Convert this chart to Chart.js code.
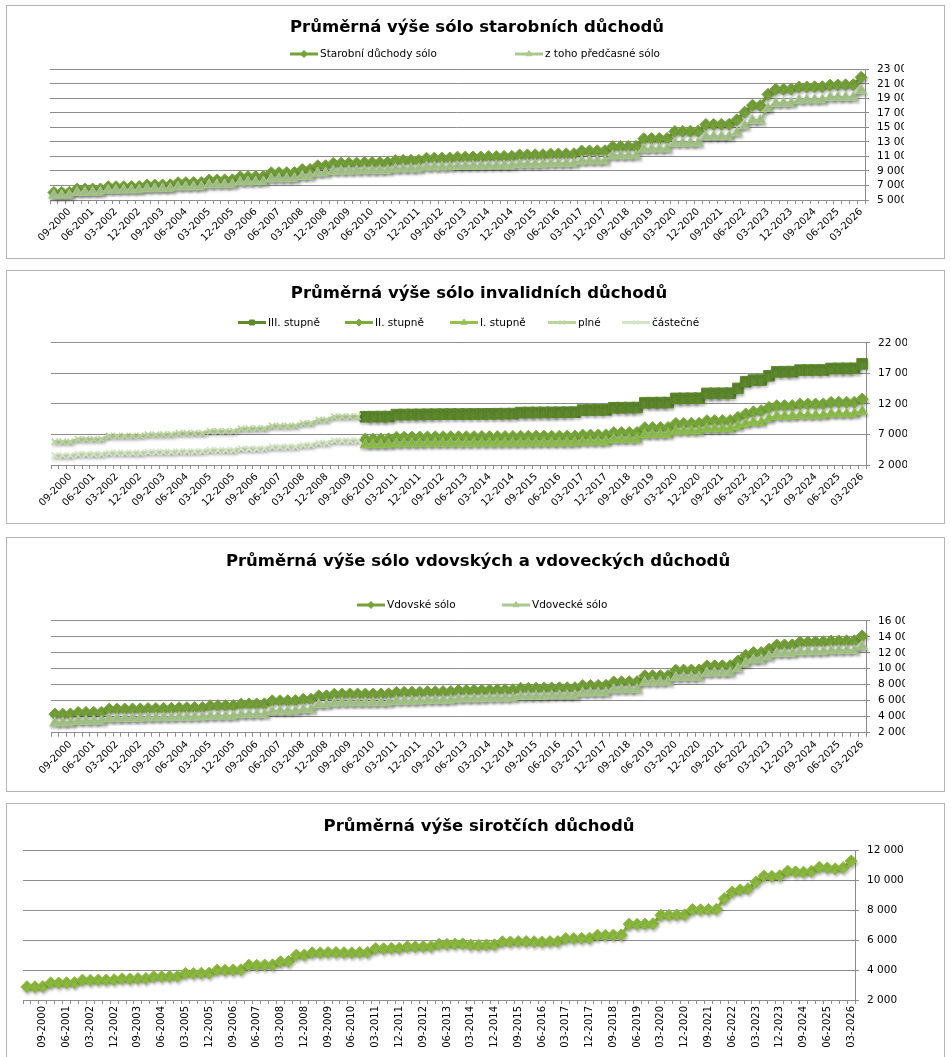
<!DOCTYPE html>
<html lang="cs">
<head>
<meta charset="utf-8">
<title>Průměrná výše sólo důchodů</title>
<script src="https://cdn.jsdelivr.net/npm/chart.js@4.4.1/dist/chart.umd.min.js"></script>
<style>
  body { margin: 0; background: #fff; }
  .panel { position: absolute; left: 6px; width: 937px; border: 1px solid #b4b4b4; background: #fff; overflow: hidden; }
  .panel canvas { display: block; }
</style>
</head>
<body>
<div class="panel" style="top:5px;height:252px"><canvas id="starobni" width="937" height="252"></canvas></div>
<div class="panel" style="top:270px;height:252px"><canvas id="invalidni" width="937" height="252"></canvas></div>
<div class="panel" style="top:537px;height:253px"><canvas id="vdovske" width="937" height="253"></canvas></div>
<div class="panel" style="top:803px;height:260px"><canvas id="sirotci" width="937" height="260"></canvas></div>
<script>
// Quarterly categories 03-2000 .. 03-2026, every third one is labelled (09-2000, 06-2001, ...)
const quarters = [];
for (let y = 2000; y <= 2026; y++) {
  for (const m of ['03', '06', '09', '12']) {
    if (y === 2026 && m !== '03') break;
    quarters.push(m + '-' + y);
  }
}

// Starobní důchody sólo (one line per year, Q1..Q4)
const starobniSolo = [
  6050, 6050, 6060, 6500,
  6500, 6510, 6520, 6830,
  6830, 6840, 6850, 6860,
  7060, 7070, 7080, 7090,
  7380, 7390, 7400, 7410,
  7750, 7760, 7770, 7780,
  8200, 8210, 8220, 8230,
  8750, 8760, 8770, 8780,
  9200, 9210, 9700, 9720,
  10050, 10060, 10070, 10080,
  10150, 10160, 10170, 10180,
  10450, 10460, 10470, 10480,
  10750, 10760, 10770, 10780,
  10900, 10910, 10920, 10930,
  10980, 10990, 11000, 11010,
  11200, 11210, 11220, 11230,
  11330, 11340, 11350, 11360,
  11750, 11760, 11770, 11780,
  12350, 12360, 12370, 12380,
  13450, 13460, 13470, 13480,
  14450, 14460, 14470, 14480,
  15400, 15410, 15420, 15430,
  16050, 17100, 18050, 18000,
  19550, 20250, 20260, 20270,
  20550, 20570, 20590, 20600,
  20820, 20840, 20860, 20880,
  21900
];

// z toho předčasné sólo
const predcasneSolo = [
  5650, 5650, 5660, 6050,
  6050, 6060, 6070, 6350,
  6350, 6360, 6370, 6380,
  6530, 6540, 6550, 6560,
  6780, 6790, 6800, 6810,
  7080, 7090, 7100, 7110,
  7450, 7460, 7470, 7480,
  7900, 7910, 7920, 7930,
  8250, 8260, 8700, 8710,
  8950, 8960, 8970, 8980,
  9020, 9030, 9040, 9050,
  9250, 9260, 9270, 9280,
  9500, 9510, 9520, 9530,
  9620, 9630, 9640, 9650,
  9680, 9690, 9700, 9710,
  9880, 9890, 9900, 9910,
  9980, 9990, 10000, 10010,
  10350, 10360, 10370, 10380,
  11050, 11060, 11070, 11080,
  12000, 12010, 12020, 12030,
  12800, 12810, 12820, 12830,
  13700, 13710, 13720, 13730,
  14250, 15200, 15950, 15950,
  17600, 18300, 18310, 18320,
  18750, 18760, 18770, 18780,
  19100, 19110, 19120, 19130,
  20100
];

// invalidní – old categories, 03-2000 .. 12-2009
const plne = [
  5800, 5800, 5810, 6200,
  6200, 6210, 6220, 6740,
  6740, 6750, 6760, 6770,
  6960, 6970, 6980, 6990,
  7180, 7190, 7200, 7210,
  7510, 7520, 7530, 7540,
  7940, 7950, 7960, 7970,
  8380, 8390, 8400, 8410,
  8820, 8830, 9360, 9370,
  9900, 9910, 9920, 9930
];
const castecne = [
  3550, 3550, 3560, 3750,
  3750, 3760, 3770, 3950,
  3950, 3960, 3970, 3980,
  4100, 4110, 4120, 4130,
  4200, 4210, 4220, 4230,
  4400, 4410, 4420, 4430,
  4650, 4660, 4670, 4680,
  4950, 4960, 4970, 4980,
  5250, 5260, 5600, 5610,
  5950, 5960, 5970, 5980
];

// invalidní – new categories, 03-2010 .. 03-2026
const stupen3 = [
  9900, 9910, 9920, 9930,
  10250, 10260, 10270, 10280,
  10300, 10310, 10320, 10330,
  10330, 10340, 10350, 10360,
  10380, 10390, 10400, 10410,
  10580, 10590, 10600, 10610,
  10620, 10630, 10640, 10650,
  10990, 11000, 11010, 11020,
  11370, 11380, 11390, 11400,
  12190, 12200, 12210, 12220,
  12900, 12910, 12920, 12930,
  13720, 13730, 13740, 13750,
  14540, 15630, 15900, 15910,
  16600, 17260, 17270, 17280,
  17530, 17540, 17550, 17560,
  17800, 17810, 17820, 17830,
  18550
];
const stupen2 = [
  6250, 6260, 6270, 6280,
  6550, 6560, 6570, 6580,
  6600, 6610, 6620, 6630,
  6620, 6630, 6640, 6650,
  6640, 6650, 6660, 6670,
  6700, 6710, 6720, 6730,
  6710, 6720, 6730, 6740,
  6900, 6910, 6920, 6930,
  7300, 7310, 7320, 7330,
  8100, 8110, 8120, 8130,
  8800, 8810, 8820, 8830,
  9250, 9260, 9270, 9280,
  9800, 10340, 10700, 10880,
  11430, 11700, 11710, 11720,
  11970, 11980, 11990, 12000,
  12250, 12260, 12270, 12280,
  12790
];
const stupen1 = [
  5300, 5310, 5320, 5330,
  5450, 5460, 5470, 5480,
  5500, 5510, 5520, 5530,
  5520, 5530, 5540, 5550,
  5550, 5560, 5570, 5580,
  5580, 5590, 5600, 5610,
  5590, 5600, 5610, 5620,
  5750, 5760, 5770, 5780,
  6140, 6150, 6160, 6170,
  6960, 6970, 6980, 6990,
  7510, 7520, 7530, 7540,
  7890, 7900, 7910, 7920,
  8320, 8750, 8980, 8990,
  9570, 9960, 9970, 9980,
  10100, 10110, 10120, 10130,
  10340, 10350, 10360, 10370,
  10780
];

// Vdovské sólo / Vdovecké sólo
const vdovskeSolo = [
  4330, 4330, 4340, 4540,
  4540, 4550, 4560, 4950,
  4950, 4960, 4970, 4980,
  5020, 5030, 5040, 5050,
  5120, 5130, 5140, 5150,
  5370, 5380, 5390, 5400,
  5580, 5590, 5600, 5610,
  5990, 6000, 6010, 6020,
  6190, 6200, 6610, 6620,
  6820, 6830, 6840, 6850,
  6830, 6840, 6850, 6860,
  7040, 7050, 7060, 7070,
  7120, 7130, 7140, 7150,
  7280, 7290, 7300, 7310,
  7350, 7360, 7370, 7380,
  7550, 7560, 7570, 7580,
  7600, 7610, 7620, 7630,
  7900, 7910, 7920, 7930,
  8350, 8360, 8370, 8380,
  9110, 9120, 9130, 9140,
  9820, 9830, 9840, 9850,
  10360, 10370, 10380, 10390,
  10980, 11690, 12020, 12030,
  12440, 12970, 12980, 12990,
  13350, 13360, 13370, 13380,
  13470, 13480, 13490, 13500,
  14100
];
const vdoveckeSolo = [
  3210, 3210, 3220, 3420,
  3420, 3430, 3440, 3750,
  3750, 3760, 3770, 3780,
  3840, 3850, 3860, 3870,
  3920, 3930, 3940, 3950,
  4040, 4050, 4060, 4070,
  4250, 4260, 4270, 4280,
  4670, 4680, 4690, 4700,
  4880, 4890, 5500, 5510,
  5700, 5710, 5720, 5730,
  5720, 5730, 5740, 5750,
  5920, 5930, 5940, 5950,
  6020, 6030, 6040, 6050,
  6200, 6210, 6220, 6230,
  6300, 6310, 6320, 6330,
  6500, 6510, 6520, 6530,
  6600, 6610, 6620, 6630,
  6950, 6960, 6970, 6980,
  7360, 7370, 7380, 7390,
  8300, 8310, 8320, 8330,
  8900, 8910, 8920, 8930,
  9450, 9460, 9470, 9480,
  10000, 10700, 11100, 11100,
  11500, 11900, 11910, 11920,
  12100, 12110, 12120, 12130,
  12250, 12260, 12270, 12280,
  12800
];

// sirotčí
const sirotci = [
  2890, 2880, 2900, 3150,
  3140, 3150, 3160, 3330,
  3320, 3330, 3340, 3350,
  3420, 3410, 3430, 3440,
  3560, 3550, 3570, 3580,
  3780, 3770, 3790, 3800,
  4000, 3990, 4010, 4020,
  4330, 4320, 4340, 4350,
  4560, 4570, 5000, 5010,
  5160, 5150, 5170, 5180,
  5160, 5150, 5170, 5180,
  5440, 5430, 5450, 5460,
  5560, 5550, 5570, 5580,
  5730, 5720, 5740, 5750,
  5670, 5660, 5680, 5690,
  5890, 5880, 5900, 5910,
  5890, 5880, 5900, 5910,
  6110, 6100, 6120, 6130,
  6330, 6320, 6340, 6350,
  7070, 7060, 7080, 7090,
  7670, 7660, 7680, 7690,
  8040, 8030, 8050, 8060,
  8780, 9220, 9360, 9430,
  9890, 10290, 10260, 10300,
  10610, 10560, 10540, 10600,
  10870, 10820, 10760, 10840,
  11290
];

const FONT = '"DejaVu Sans", Verdana, sans-serif';
const GRID = '#8c8c8c';

// the old invalidity categories stop at 12-2009, the new ones start at 03-2010
const gapBefore = Array(plne.length).fill(null);
const gapAfter = Array(quarters.length - plne.length).fill(null);

function fmt(v) {
  return String(v).replace(/\B(?=(\d{3})+(?!\d))/g, ' ');
}

// soft shadow under lines and markers, like the Excel original
const markerShadow = {
  id: 'markerShadow',
  beforeDatasetsDraw(chart) {
    const c = chart.ctx;
    c.save();
    c.shadowColor = 'rgba(0,0,0,0.28)';
    c.shadowBlur = 3;
    c.shadowOffsetX = 1;
    c.shadowOffsetY = 2;
  },
  afterDatasetsDraw(chart) {
    chart.ctx.restore();
  }
};

// legend with free item positions (Excel spreads the entries unevenly)
const excelLegend = {
  id: 'excelLegend',
  afterDraw(chart, args, opts) {
    if (!opts.x || !opts.x.length) return;
    const ctx = chart.ctx;
    ctx.save();
    ctx.font = '10.5px ' + FONT;
    ctx.textBaseline = 'middle';
    opts.x.forEach((x, i) => {
      const ds = chart.data.datasets[i];
      const y = opts.y;
      ctx.strokeStyle = ds.borderColor;
      ctx.lineWidth = 3;
      ctx.beginPath();
      ctx.moveTo(x, y);
      ctx.lineTo(x + 28, y);
      ctx.stroke();
      ctx.fillStyle = ds.pointBackgroundColor;
      ctx.strokeStyle = ds.pointBorderColor;
      ctx.lineWidth = 1;
      Chart.helpers.drawPoint(ctx, { pointStyle: ds.pointStyle, radius: 3.5, borderWidth: 1 }, x + 14, y);
      ctx.fillStyle = '#000';
      ctx.fillText(ds.label, x + 30, y + 0.5);
    });
    ctx.restore();
  }
};

function series(label, data, color, style, radius, order) {
  return {
    label: label,
    data: data,
    borderColor: color,
    backgroundColor: color,
    pointBackgroundColor: color,
    pointBorderColor: color,
    pointStyle: style,
    pointRadius: radius,
    pointBorderWidth: style === 'crossRot' ? 1.6 : 1,
    borderWidth: 3,
    tension: 0,
    clip: false,
    order: order
  };
}

function buildChart(id, datasets, o) {
  return new Chart(document.getElementById(id), {
    type: 'line',
    data: { labels: quarters, datasets: datasets },
    plugins: [markerShadow, excelLegend],
    options: {
      responsive: false,
      animation: false,
      events: [],
      layout: { padding: { left: o.padLeft, right: o.padRight, top: 0, bottom: 0 } },
      plugins: {
        legend: { display: false },
        tooltip: { enabled: false },
        title: {
          display: true,
          text: o.title,
          color: '#000',
          font: { family: FONT, size: 16.5, weight: 'bold' },
          padding: { top: o.titleTop, bottom: o.titleBottom }
        },
        excelLegend: o.legend || { x: [] }
      },
      scales: {
        x: {
          offset: true,
          grid: { offset: true, drawOnChartArea: false, drawTicks: true, tickLength: 4, color: GRID },
          border: { display: true, color: GRID },
          ticks: {
            autoSkip: false,
            minRotation: o.rotation,
            maxRotation: o.rotation,
            color: '#000',
            padding: 2,
            font: { family: FONT, size: 10 },
            callback: (v, i) => (i % 3 === 2 ? quarters[i] : '')
          },
          afterFit: s => { s.height = o.xHeight; }
        },
        y: {
          position: 'right',
          min: o.min,
          max: o.max,
          grid: { color: GRID, tickLength: 4 },
          border: { display: true, color: GRID },
          ticks: {
            stepSize: o.step,
            autoSkip: false,
            color: '#000',
            padding: 8,
            font: { family: FONT, size: 10.5 },
            callback: v => fmt(v)
          },
          afterFit: s => { s.width = o.yWidth; }
        }
      }
    }
  });
}

buildChart('starobni', [
  series('Starobní důchody sólo', starobniSolo, '#76a23a', 'rectRot', 6, 1),
  series('z toho předčasné sólo', predcasneSolo, '#a9c98c', 'triangle', 6, 0)
], {
  title: 'Průměrná výše sólo starobních důchodů',
  titleTop: 12, titleBottom: 31.5,
  padLeft: 43, padRight: 40, yWidth: 39, xHeight: 58,
  min: 5000, max: 23000, step: 2000, rotation: 45,
  legend: { y: 48, x: [283, 508] }
});

buildChart('invalidni', [
  series('III. stupně', gapBefore.concat(stupen3), '#5e8a2d', 'rect', 7.5, 4),
  series('II. stupně', gapBefore.concat(stupen2), '#7aaa3c', 'rectRot', 6, 3),
  series('I. stupně', gapBefore.concat(stupen1), '#92c350', 'triangle', 6, 2),
  series('plné', plne.concat(gapAfter), '#b9d59c', 'crossRot', 4.5, 1),
  series('částečné', castecne.concat(gapAfter), '#d3e5c2', 'crossRot', 4.5, 0)
], {
  title: 'Průměrná výše sólo invalidních důchodů',
  titleTop: 13, titleBottom: 39,
  padLeft: 44, padRight: 37, yWidth: 41, xHeight: 58,
  min: 2000, max: 22000, step: 5000, rotation: 45,
  legend: { y: 51.5, x: [231, 338, 443, 541, 615] }
});

buildChart('vdovske', [
  series('Vdovské sólo', vdovskeSolo, '#76a23a', 'rectRot', 6, 1),
  series('Vdovecké sólo', vdoveckeSolo, '#a9c98c', 'triangle', 6, 0)
], {
  title: 'Průměrná výše sólo vdovských a vdoveckých důchodů',
  titleTop: 14, titleBottom: 49,
  padLeft: 44, padRight: 39, yWidth: 39, xHeight: 58.3,
  min: 2000, max: 16000, step: 2000, rotation: 45,
  legend: { y: 67, x: [350, 495] }
});

buildChart('sirotci', [
  series('Sirotčí', sirotci, '#8dbb3f', 'rectRot', 6, 0)
], {
  title: 'Průměrná výše sirotčích důchodů',
  titleTop: 13, titleBottom: 13.5,
  padLeft: 16, padRight: 9, yWidth: 80, xHeight: 64,
  min: 2000, max: 12000, step: 2000, rotation: 90
});
</script>
</body>
</html>
